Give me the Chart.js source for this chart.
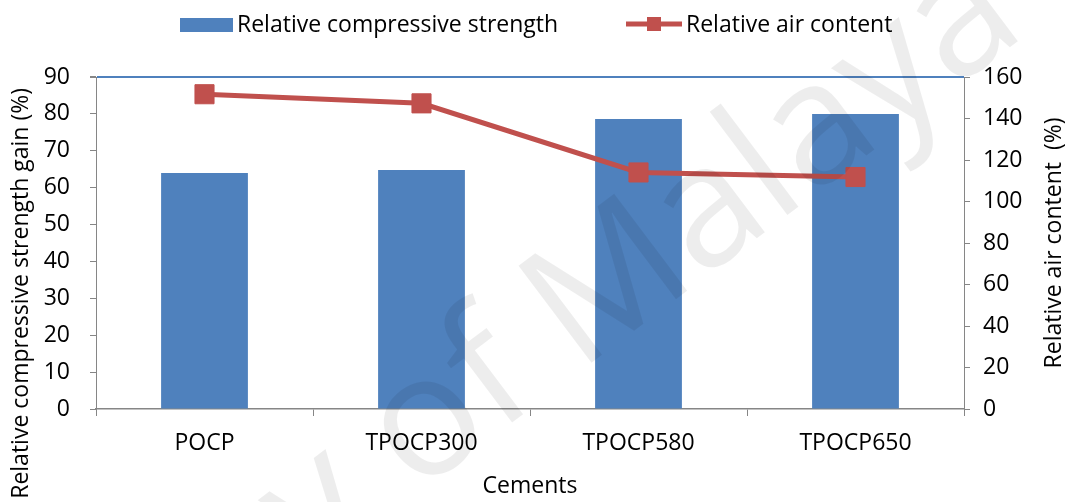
<!DOCTYPE html>
<html>
<head>
<meta charset="utf-8">
<script src="https://cdn.jsdelivr.net/npm/chart.js@4.4.1/dist/chart.umd.min.js"></script>
<style>
  html, body { margin: 0; padding: 0; background: #ffffff; }
  #wrap { width: 1074px; height: 502px; position: relative; }
</style>
</head>
<body>
<div id="wrap"><canvas id="chart"></canvas></div>
<script>
// Cement types on the category axis
const cements = ['POCP', 'TPOCP300', 'TPOCP580', 'TPOCP650'];
// Relative compressive strength gain (%), left axis
const strengthGain = [64.0, 64.8, 78.6, 80.0];
// Relative air content (%), right axis
const airContent = [151.7, 147.3, 114.0, 111.8];
// Axis ranges and tick steps
const leftAxis = [0, 90, 10];
const rightAxis = [0, 160, 20];

const FONT = 'Open Sans';
const BLUE = '#4F81BD';
const RED = '#C0504D';
const AXIS_GREY = '#868686';
const textFont = { family: FONT, size: 23 };

// Legend, rotated axis titles and the repository stamp
const decorations = {
  id: 'decorations',
  afterDraw(chart) {
    const ctx = chart.ctx;
    const area = chart.chartArea;
    ctx.save();
    ctx.font = `23px "${FONT}"`;
    ctx.fillStyle = '#000';
    ctx.textBaseline = 'alphabetic';

    // legend: bar swatch
    ctx.fillStyle = BLUE;
    ctx.fillRect(180, 18, 53, 14);
    ctx.fillStyle = '#000';
    ctx.textAlign = 'left';
    ctx.fillText(chart.data.datasets[0].label, 237, 31.5);

    // legend: line with square marker
    ctx.strokeStyle = RED;
    ctx.lineWidth = 5;
    ctx.beginPath();
    ctx.moveTo(626, 24);
    ctx.lineTo(682, 24);
    ctx.stroke();
    ctx.fillStyle = RED;
    ctx.fillRect(647, 17, 14, 14);
    ctx.fillStyle = '#000';
    ctx.fillText(chart.data.datasets[1].label, 686, 31.5);

    // left axis title, reading bottom to top
    ctx.save();
    ctx.translate(28, 88);
    ctx.rotate(-Math.PI / 2);
    ctx.textAlign = 'right';
    ctx.fillText('Relative compressive strength gain (%)', 0, 0);
    ctx.restore();

    // right axis title, reading bottom to top
    ctx.save();
    ctx.translate(1061, (area.top + area.bottom) / 2);
    ctx.rotate(-Math.PI / 2);
    ctx.textAlign = 'center';
    ctx.fillText('Relative air content  (%)', 0, 0);
    ctx.restore();

    // faint diagonal stamp
    ctx.save();
    ctx.translate(1029, 33);
    ctx.rotate(-37 * Math.PI / 180);
    ctx.font = `170px "${FONT}"`;
    ctx.fillStyle = 'rgba(0,0,0,0.07)';
    ctx.textAlign = 'right';
    ctx.fillText('University of Malaya', 0, 0);
    ctx.restore();

    ctx.restore();
  }
};

new Chart(document.getElementById('chart'), {
  data: {
    labels: cements,
    datasets: [
      {
        type: 'bar',
        label: 'Relative compressive strength',
        data: strengthGain,
        yAxisID: 'y',
        backgroundColor: BLUE,
        borderWidth: 0,
        categoryPercentage: 1.0,
        barPercentage: 0.4,
        order: 2
      },
      {
        type: 'line',
        label: 'Relative air content',
        data: airContent,
        yAxisID: 'y1',
        borderColor: RED,
        backgroundColor: RED,
        borderWidth: 5,
        tension: 0,
        pointStyle: 'rect',
        pointRadius: 13.5,
        pointBorderWidth: 1,
        pointBorderColor: RED,
        pointBackgroundColor: RED,
        order: 1
      }
    ]
  },
  options: {
    responsive: true,
    maintainAspectRatio: false,
    animation: false,
    layout: { padding: { top: 77, left: 0, right: 0, bottom: 0 } },
    plugins: {
      legend: { display: false },
      tooltip: { enabled: false }
    },
    scales: {
      x: {
        type: 'category',
        offset: true,
        grid: {
          offset: true,
          drawOnChartArea: false,
          drawTicks: true,
          tickLength: 7,
          tickColor: AXIS_GREY,
          tickWidth: 1
        },
        border: { display: true, color: AXIS_GREY, width: 1.5 },
        ticks: { font: textFont, color: '#000', padding: 14, maxRotation: 0 },
        title: {
          display: true,
          text: 'Cements',
          font: textFont,
          color: '#000',
          padding: { top: 0, bottom: 2 }
        },
        afterFit(scale) { scale.height = 93; }
      },
      y: {
        position: 'left',
        min: leftAxis[0],
        max: leftAxis[1],
        ticks: { stepSize: leftAxis[2], font: textFont, color: '#000', padding: 20 },
        grid: {
          drawOnChartArea: true,
          drawTicks: true,
          tickLength: 6,
          tickColor: AXIS_GREY,
          color: c => (c.tick && c.tick.value === leftAxis[1]) ? BLUE : 'rgba(0,0,0,0)',
          lineWidth: c => (c.tick && c.tick.value === leftAxis[1]) ? 2 : 1
        },
        border: { display: true, color: AXIS_GREY, width: 1 },
        afterFit(scale) { scale.width = 96; }
      },
      y1: {
        position: 'right',
        min: rightAxis[0],
        max: rightAxis[1],
        ticks: { stepSize: rightAxis[2], font: textFont, color: '#000', padding: 13 },
        grid: {
          drawOnChartArea: false,
          drawTicks: true,
          tickLength: 6,
          tickColor: AXIS_GREY
        },
        border: { display: true, color: AXIS_GREY, width: 1 },
        afterFit(scale) { scale.width = 110; }
      }
    }
  },
  plugins: [decorations]
});
</script>
</body>
</html>
